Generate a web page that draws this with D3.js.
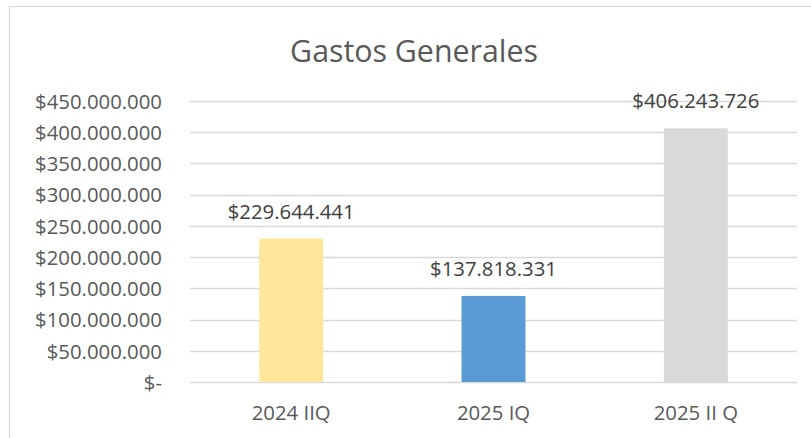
<!DOCTYPE html>
<html><head><meta charset="utf-8">
<script src="https://cdn.jsdelivr.net/npm/d3@7"></script>
<style>body{margin:0;background:#fff;}svg{display:block;}</style>
</head><body>
<script>
const categories = ["2024 IIQ", "2025 IQ", "2025 II Q"];
const values = [229644441, 137818331, 406243726];
const colors = ["#FFE699", "#5B9BD5", "#D9D9D9"];
const yTicks = [0, 50000000, 100000000, 150000000, 200000000, 250000000, 300000000, 350000000, 400000000, 450000000];
const title = "Gastos Generales";

const W = 811, H = 438;
const font = "'Open Sans', sans-serif";
const svg = d3.select("body").append("svg").attr("width", W).attr("height", H);

function fitSize(str, target, base) {
  const t = svg.append("text").attr("font-family", font).attr("font-size", base).text(str);
  const w = t.node().getComputedTextLength();
  t.remove();
  return w > 0 ? base * target / w : base;
}
const labelSize = fitSize("$450.000.000", 127, 18);
const titleSize = fitSize(title, 248, 30);

svg.append("rect").attr("x", 9.5).attr("y", 6.5).attr("width", W + 10).attr("height", H + 10)
  .attr("fill", "#fff").attr("stroke", "#d9d9d9").attr("stroke-width", 1.3);

const fmt = v => v === 0 ? "$-" : "$" + d3.format(",")(v).replace(/,/g, ".");

const x = d3.scaleBand().domain(categories).range([190, 797]).paddingInner(0.684).paddingOuter(0.342);
const y = d3.scaleLinear().domain([0, 450000000]).range([382, 101]);

svg.append("g").selectAll("line").data(yTicks).join("line")
  .attr("x1", 190).attr("x2", 797)
  .attr("y1", d => Math.round(y(d)) + 0.5).attr("y2", d => Math.round(y(d)) + 0.5)
  .attr("stroke", "#d9d9d9").attr("stroke-width", 1.3);

const yAxis = d3.axisLeft(y).tickValues(yTicks).tickFormat(fmt).tickSize(0).tickPadding(0);
const ga = svg.append("g").attr("transform", "translate(162,0)").call(yAxis);
ga.select(".domain").remove();
ga.selectAll("text").attr("font-family", font).attr("font-size", labelSize).attr("fill", "#595959").attr("dy", "0.36em");

svg.append("g").selectAll("rect").data(values).join("rect")
  .attr("x", (d, i) => x(categories[i])).attr("width", x.bandwidth())
  .attr("y", d => y(d)).attr("height", d => y(0) - y(d))
  .attr("fill", (d, i) => colors[i]);

svg.append("g").selectAll("text").data(values).join("text")
  .attr("x", (d, i) => x(categories[i]) + x.bandwidth() / 2)
  .attr("y", d => y(d) - 20)
  .attr("text-anchor", "middle").attr("font-family", font).attr("font-size", labelSize).attr("fill", "#404040")
  .text(fmt);

const xAxis = d3.axisBottom(x).tickSize(0).tickPadding(0);
const gx = svg.append("g").attr("transform", "translate(0,420)").call(xAxis);
gx.select(".domain").remove();
gx.selectAll("text").attr("font-family", font).attr("font-size", labelSize).attr("fill", "#595959").attr("dy", 0);

svg.append("text").attr("x", 414).attr("y", 62).attr("text-anchor", "middle")
  .attr("font-family", font).attr("font-size", titleSize).attr("fill", "#595959").text(title);
</script>
</body></html>
